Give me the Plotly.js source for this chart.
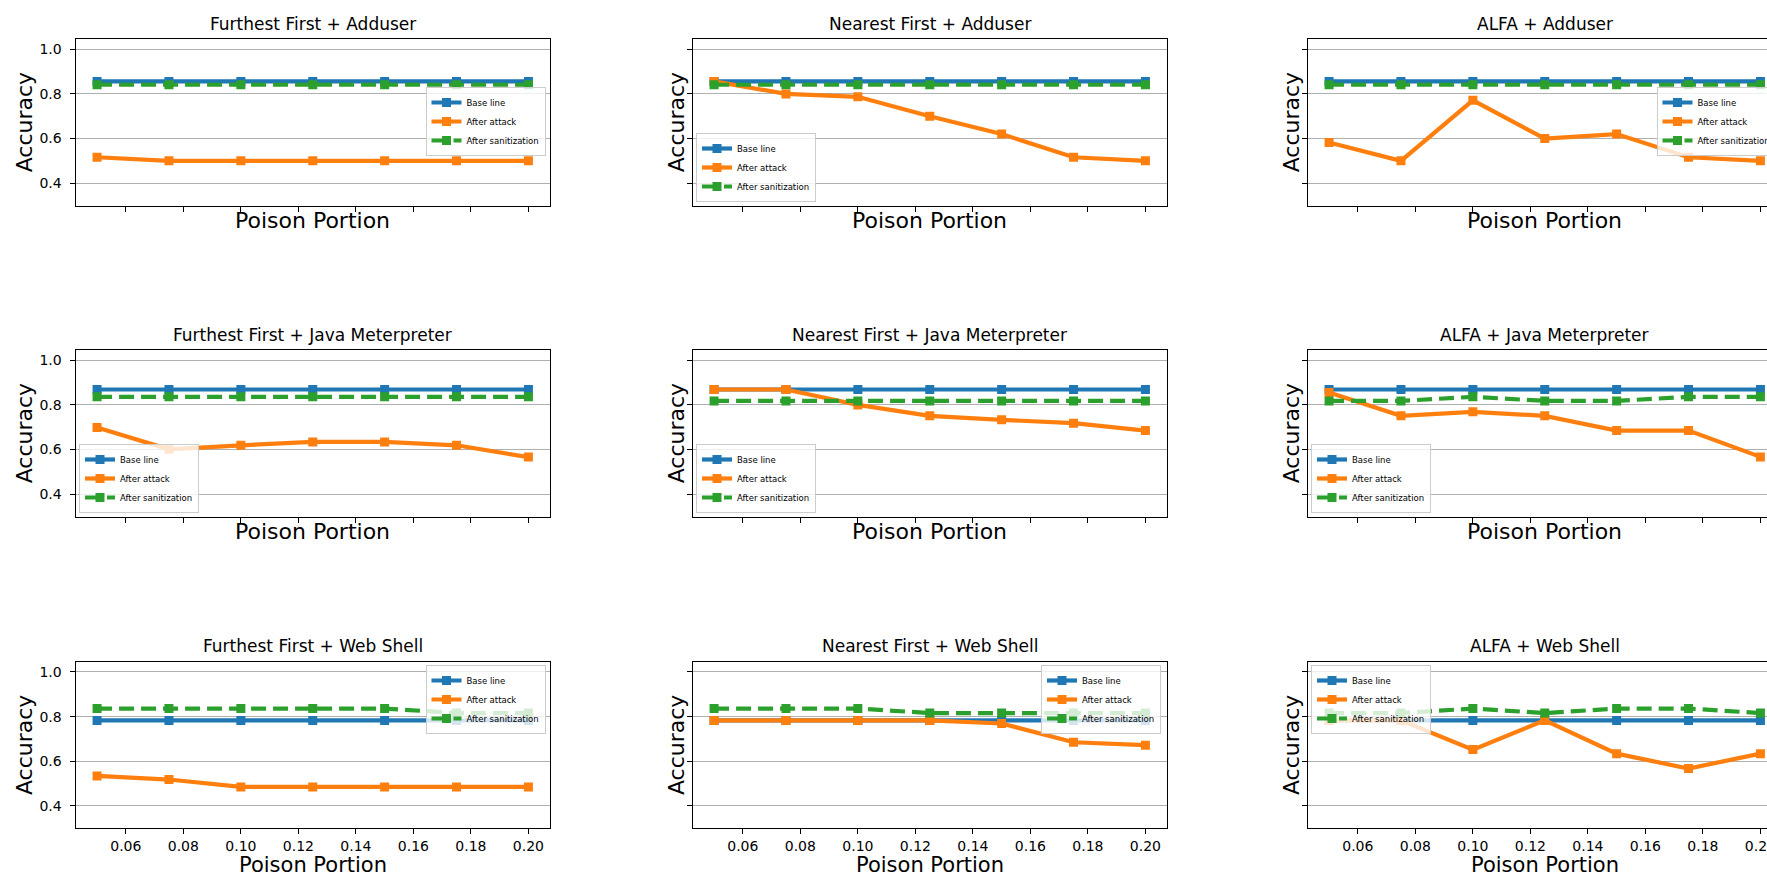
<!DOCTYPE html>
<html>
<head>
<meta charset="utf-8">
<script src="https://cdn.plot.ly/plotly-3.0.1.min.js"></script>
<style>
html, body { margin: 0; padding: 0; overflow: hidden; background: #fff; }
#chart { width: 1800px; height: 878px; }
</style>
</head>
<body>
<div id="chart"></div>
<script>
// ---------- data ----------
const poisonPortion = [0.05, 0.075, 0.1, 0.125, 0.15, 0.175, 0.2];
const methods = ['Furthest First', 'Nearest First', 'ALFA'];
const attacks = ['Adduser', 'Java Meterpreter', 'Web Shell'];
const seriesNames = ['Base line', 'After attack', 'After sanitization'];
const xTickVals = [0.06, 0.08, 0.10, 0.12, 0.14, 0.16, 0.18, 0.20];
const yTickVals = [0.4, 0.6, 0.8, 1.0];

// Adduser
const ffAdduserBase   = [0.856, 0.856, 0.856, 0.856, 0.856, 0.856, 0.856];
const ffAdduserAttack = [0.516, 0.500, 0.500, 0.500, 0.500, 0.500, 0.500];
const ffAdduserSan    = [0.841, 0.841, 0.841, 0.841, 0.841, 0.841, 0.841];
const nfAdduserBase   = [0.856, 0.856, 0.856, 0.856, 0.856, 0.856, 0.856];
const nfAdduserAttack = [0.856, 0.800, 0.787, 0.700, 0.620, 0.516, 0.500];
const nfAdduserSan    = [0.841, 0.841, 0.841, 0.841, 0.841, 0.841, 0.841];
const alAdduserBase   = [0.856, 0.856, 0.856, 0.856, 0.856, 0.856, 0.856];
const alAdduserAttack = [0.582, 0.500, 0.771, 0.600, 0.620, 0.516, 0.500];
const alAdduserSan    = [0.841, 0.841, 0.841, 0.841, 0.841, 0.841, 0.841];
// Java Meterpreter
const ffJavaBase   = [0.869, 0.869, 0.869, 0.869, 0.869, 0.869, 0.869];
const ffJavaAttack = [0.699, 0.601, 0.619, 0.634, 0.634, 0.619, 0.566];
const ffJavaSan    = [0.836, 0.836, 0.836, 0.836, 0.836, 0.836, 0.836];
const nfJavaBase   = [0.869, 0.869, 0.869, 0.869, 0.869, 0.869, 0.869];
const nfJavaAttack = [0.869, 0.869, 0.800, 0.751, 0.733, 0.718, 0.685];
const nfJavaSan    = [0.818, 0.818, 0.818, 0.818, 0.818, 0.818, 0.818];
const alJavaBase   = [0.869, 0.869, 0.869, 0.869, 0.869, 0.869, 0.869];
const alJavaAttack = [0.855, 0.751, 0.769, 0.751, 0.685, 0.685, 0.567];
const alJavaSan    = [0.818, 0.818, 0.836, 0.818, 0.818, 0.836, 0.836];
// Web Shell
const ffWebBase   = [0.783, 0.783, 0.783, 0.783, 0.783, 0.783, 0.783];
const ffWebAttack = [0.534, 0.518, 0.485, 0.485, 0.485, 0.485, 0.485];
const ffWebSan    = [0.836, 0.836, 0.836, 0.836, 0.836, 0.816, 0.816];
const nfWebBase   = [0.783, 0.783, 0.783, 0.783, 0.783, 0.783, 0.783];
const nfWebAttack = [0.783, 0.783, 0.783, 0.783, 0.769, 0.685, 0.672];
const nfWebSan    = [0.836, 0.836, 0.836, 0.816, 0.816, 0.816, 0.816];
const alWebBase   = [0.783, 0.783, 0.783, 0.783, 0.783, 0.783, 0.783];
const alWebAttack = [0.783, 0.783, 0.652, 0.783, 0.634, 0.567, 0.634];
const alWebSan    = [0.816, 0.816, 0.836, 0.816, 0.836, 0.836, 0.816];

const panels = [
  [[ffAdduserBase, ffAdduserAttack, ffAdduserSan], [nfAdduserBase, nfAdduserAttack, nfAdduserSan], [alAdduserBase, alAdduserAttack, alAdduserSan]],
  [[ffJavaBase, ffJavaAttack, ffJavaSan], [nfJavaBase, nfJavaAttack, nfJavaSan], [alJavaBase, alJavaAttack, alJavaSan]],
  [[ffWebBase, ffWebAttack, ffWebSan], [nfWebBase, nfWebAttack, nfWebSan], [alWebBase, alWebAttack, alWebSan]]
];

// ---------- layout geometry (pixels) ----------
const W = 1800, H = 878;
const colLeft = [75.5, 692.5, 1307.5];
const axW = 474.5;
const rowTop = [39, 350, 661.7];
const axH = 166.7;
const FONT = 'DejaVu Sans, Liberation Sans, sans-serif';
const colors = ['#1f77b4', '#ff7f0e', '#2ca02c'];
const dashes = ['solid', 'solid', '15px,7px'];

// legend placement: [anchorX px, anchorY px, xanchor, yanchor]
const legendPos = [
  [[545.5, 121.5, 'right', 'middle'], [696, 202, 'left', 'bottom'], [1776.5, 121.5, 'right', 'middle']],
  [[79, 513, 'left', 'bottom'], [696, 513, 'left', 'bottom'], [1311, 513, 'left', 'bottom']],
  [[545.5, 665, 'right', 'top'], [1161, 665, 'right', 'top'], [1311, 665, 'left', 'top']]
];

const px2x = p => p / W;
const px2y = p => 1 - p / H;

const data = [];
const layout = {
  width: W, height: H,
  margin: {l: 0, r: 0, t: 0, b: 0, pad: 0},
  paper_bgcolor: '#fff', plot_bgcolor: '#fff',
  font: {family: FONT, color: '#000'},
  annotations: [],
  showlegend: true
};

let idx = 0;
for (let r = 0; r < 3; r++) {
  for (let c = 0; c < 3; c++) {
    idx++;
    const xa = idx === 1 ? 'xaxis' : 'xaxis' + idx;
    const ya = idx === 1 ? 'yaxis' : 'yaxis' + idx;
    const xr = idx === 1 ? 'x' : 'x' + idx;
    const yr = idx === 1 ? 'y' : 'y' + idx;
    const lg = idx === 1 ? 'legend' : 'legend' + idx;

    layout[xa] = {
      domain: [px2x(colLeft[c]), px2x(colLeft[c] + axW)],
      anchor: yr,
      range: [0.0425, 0.2075],
      tickmode: 'array', tickvals: xTickVals,
      tickformat: '.2f',
      showticklabels: r === 2,
      ticks: 'outside', ticklen: 5, tickwidth: 1, tickcolor: '#000',
      ticklabelstandoff: 0,
      tickfont: {family: FONT, size: 14, color: '#000'},
      showgrid: false, zeroline: false,
      showline: true, mirror: true, linecolor: '#000', linewidth: 1,
      fixedrange: true
    };
    layout[ya] = {
      domain: [px2y(rowTop[r] + axH), px2y(rowTop[r])],
      anchor: xr,
      range: [0.299, 1.046],
      tickmode: 'array', tickvals: yTickVals,
      tickformat: '.1f',
      showticklabels: c === 0,
      ticks: 'outside', ticklen: 5, tickwidth: 1, tickcolor: '#000',
      ticklabelstandoff: 5,
      tickfont: {family: FONT, size: 14, color: '#000'},
      showgrid: true, gridcolor: '#b0b0b0', gridwidth: 1,
      zeroline: false,
      showline: true, mirror: true, linecolor: '#000', linewidth: 1,
      fixedrange: true
    };

    const lp = legendPos[r][c];
    layout[lg] = {
      x: px2x(lp[0]), y: px2y(lp[1]), xref: 'paper', yref: 'paper',
      xanchor: lp[2], yanchor: lp[3],
      bgcolor: 'rgba(255,255,255,0.8)', bordercolor: '#cccccc', borderwidth: 1,
      font: {family: FONT, size: 8.5, color: '#000'},
      itemwidth: 30, tracegroupgap: 0
    };

    const series = panels[r][c];
    for (let s = 0; s < 3; s++) {
      data.push({
        type: 'scatter', mode: 'lines+markers',
        x: poisonPortion, y: series[s],
        xaxis: xr, yaxis: yr, legend: lg,
        name: seriesNames[s],
        line: {color: colors[s], width: 4.2, dash: dashes[s]},
        marker: {symbol: 'square', size: 9, color: colors[s], line: {width: 0}},
        hoverinfo: 'x+y+name'
      });
    }

    const cx = colLeft[c] + axW / 2;
    // subplot title
    layout.annotations.push({
      text: methods[c] + ' + ' + attacks[r],
      xref: 'paper', yref: 'paper',
      x: px2x(cx), y: px2y(rowTop[r] - 9.5 - 0.346 * 17),
      xanchor: 'center', yanchor: 'middle', showarrow: false,
      font: {family: FONT, size: 17, color: '#000'}
    });
    // x axis title
    if (r === 2) {
      layout.annotations.push({
        text: 'Poison Portion',
        xref: 'paper', yref: 'paper',
        x: px2x(cx), y: 0,
        xanchor: 'center', yanchor: 'bottom', showarrow: false, borderpad: 0,
        font: {family: FONT, size: 21, color: '#000'}
      });
    } else {
      const xBase = rowTop[r] + axH + 22;
      layout.annotations.push({
        text: 'Poison Portion',
        xref: 'paper', yref: 'paper',
        x: px2x(cx), y: px2y(xBase - 0.346 * 22),
        xanchor: 'center', yanchor: 'middle', showarrow: false,
        font: {family: FONT, size: 22, color: '#000'}
      });
    }
    // y axis title
    layout.annotations.push({
      text: 'Accuracy',
      xref: 'paper', yref: 'paper',
      x: px2x(colLeft[c] - (c === 0 ? 51.5 : 16.5)), y: px2y(rowTop[r] + axH / 2),
      xanchor: 'center', yanchor: 'middle', showarrow: false, textangle: -90,
      font: {family: FONT, size: 22, color: '#000'}
    });
  }
}

Plotly.newPlot('chart', data, layout, {displayModeBar: false, staticPlot: false, responsive: false});
</script>
</body>
</html>
